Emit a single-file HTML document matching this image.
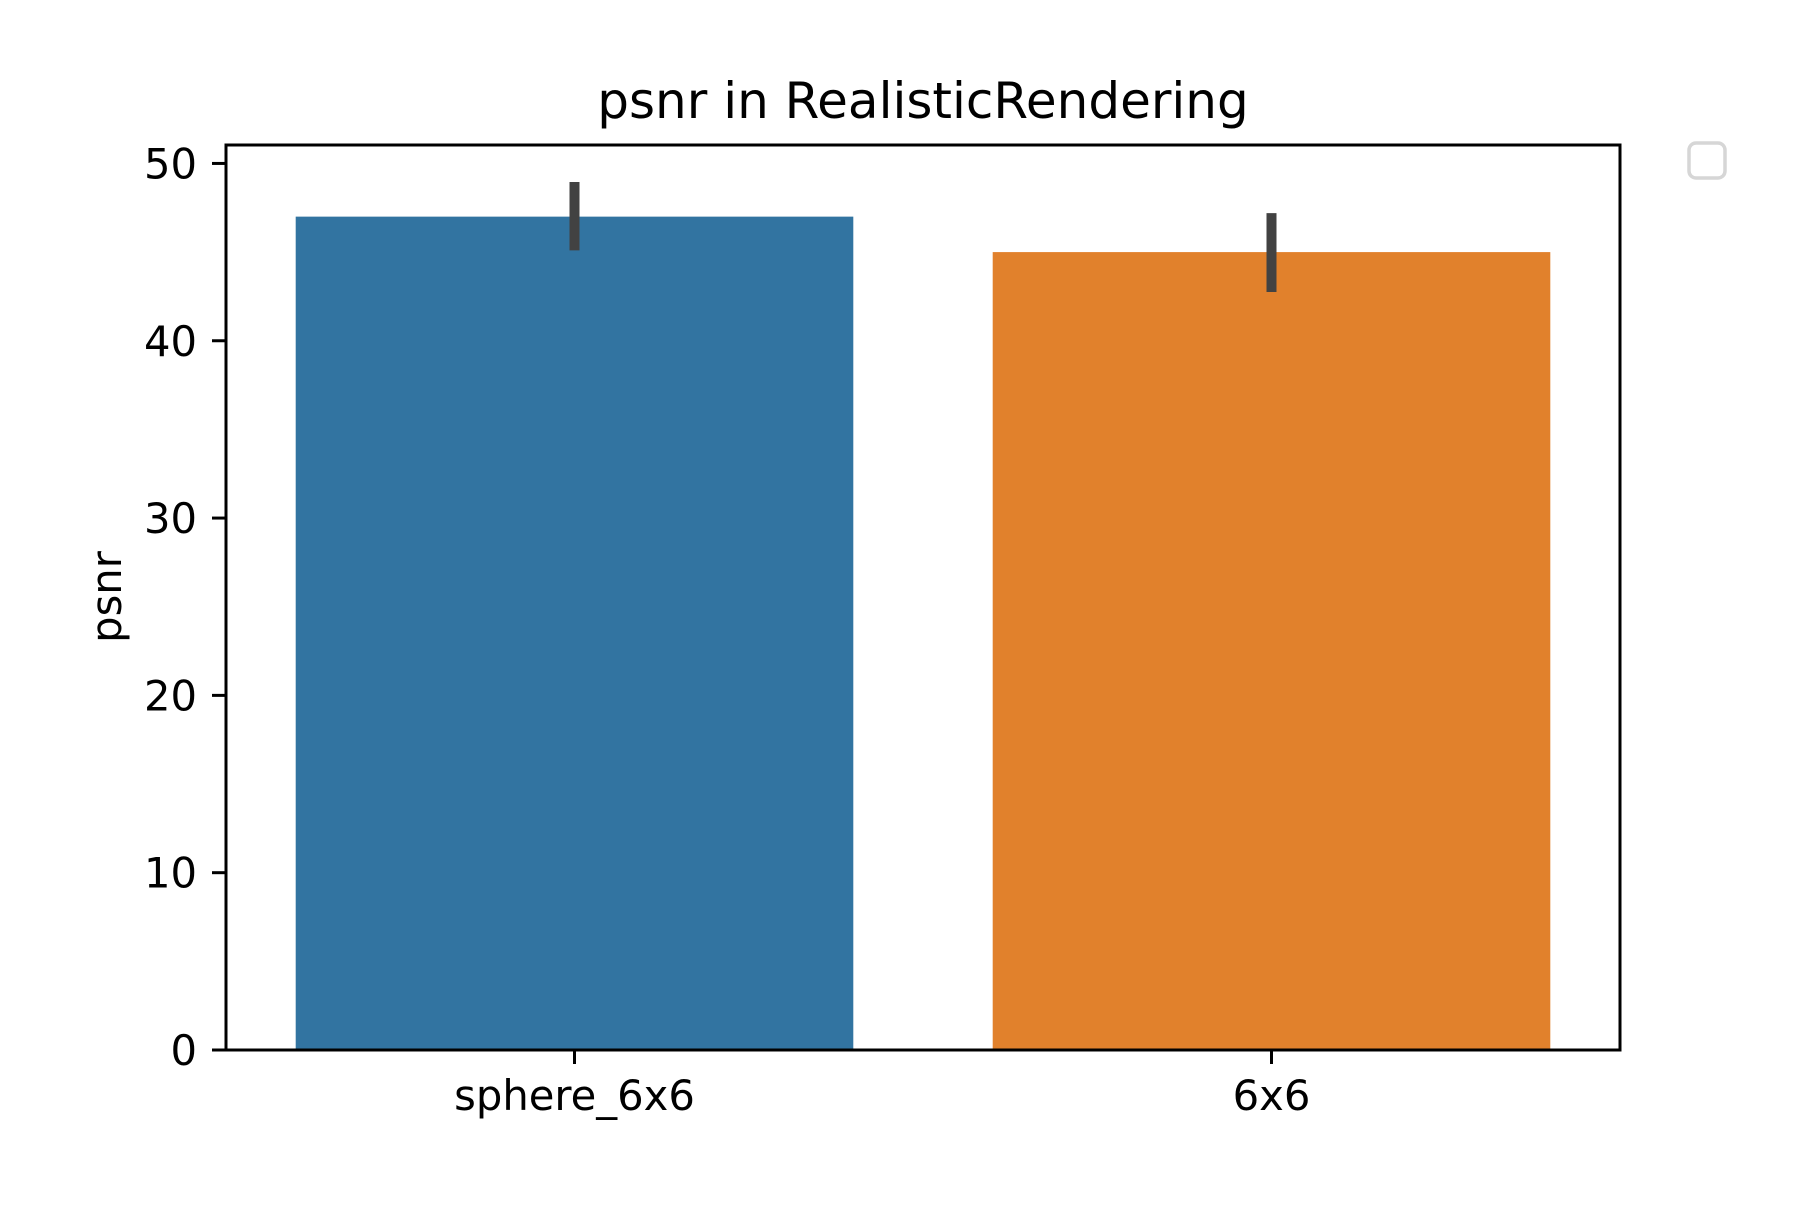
<!DOCTYPE html>
<html><head><meta charset="utf-8"><style>
html,body{margin:0;padding:0;background:#fff;}
svg text{font-family:"DejaVu Sans","Liberation Sans",sans-serif;fill:#000;}
</style></head><body>
<svg id="chart" width="1800" height="1200" viewBox="0 0 1800 1200" xmlns="http://www.w3.org/2000/svg">
<rect x="0" y="0" width="1800" height="1200" fill="#fff"/>
<text x="923" y="118" font-size="50" text-anchor="middle">psnr in RealisticRendering</text>
<g id="plot"></g>
<text transform="translate(121,597) rotate(-90)" font-size="41.7" text-anchor="middle">psnr</text>
<rect x="1689" y="143" width="36" height="35" rx="7" ry="7" fill="#fff" stroke="#d6d6d6" stroke-width="3.5"/>
</svg>
<script>
const categories = ["sphere_6x6", "6x6"];
const values = [47.0, 45.0];
const errLow = [45.1, 42.75];
const errHigh = [48.95, 47.2];
const yTicks = [0, 10, 20, 30, 40, 50];
const colors = ["#3274a1", "#e1812c"];

const L = 226, R = 1620, T = 145, B = 1050;
const yMax = 51.04;
const NS = "http://www.w3.org/2000/svg";
const band = (R - L) / categories.length;
function xScale(i) { return L + band * (i + 0.5); }
function yScale(v) { return B - (v / yMax) * (B - T); }
const plot = document.getElementById('plot');
function mk(tag, attrs) { const e = document.createElementNS(NS, tag); for (const k in attrs) e.setAttribute(k, attrs[k]); plot.appendChild(e); return e; }

categories.forEach((c, i) => {
  const w = band * 0.8;
  const bar = mk('rect', {x: xScale(i) - w / 2, y: yScale(values[i]), width: w, height: B - yScale(values[i]), fill: colors[i]});
  
  
});
categories.forEach((c, i) => {
  const eb = mk('line', {x1: xScale(i), x2: xScale(i), y1: yScale(errLow[i]), y2: yScale(errHigh[i]), stroke: '#424242', 'stroke-width': 10});
  
  
});
const frame = mk('rect', {x: L, y: T, width: R - L, height: B - T, fill: 'none', stroke: '#000', 'stroke-width': 3});


yTicks.forEach(v => {
  const y = yScale(v);
  const t = mk('line', {x1: L - 14, x2: L, y1: y, y2: y, stroke: '#000', 'stroke-width': 3});
  
  
  const lb = mk('text', {x: L - 29, y: y + 15, 'font-size': 41.7, 'text-anchor': 'end'});
  lb.textContent = v;
  
  
});
categories.forEach((c, i) => {
  const x = xScale(i);
  const t = mk('line', {x1: x, x2: x, y1: B, y2: B + 14, stroke: '#000', 'stroke-width': 3});
  
  
  const lb = mk('text', {x: x, y: B + 60, 'font-size': 41.7, 'text-anchor': 'middle'});
  lb.textContent = c;
  
  
});
</script>
</body></html>
